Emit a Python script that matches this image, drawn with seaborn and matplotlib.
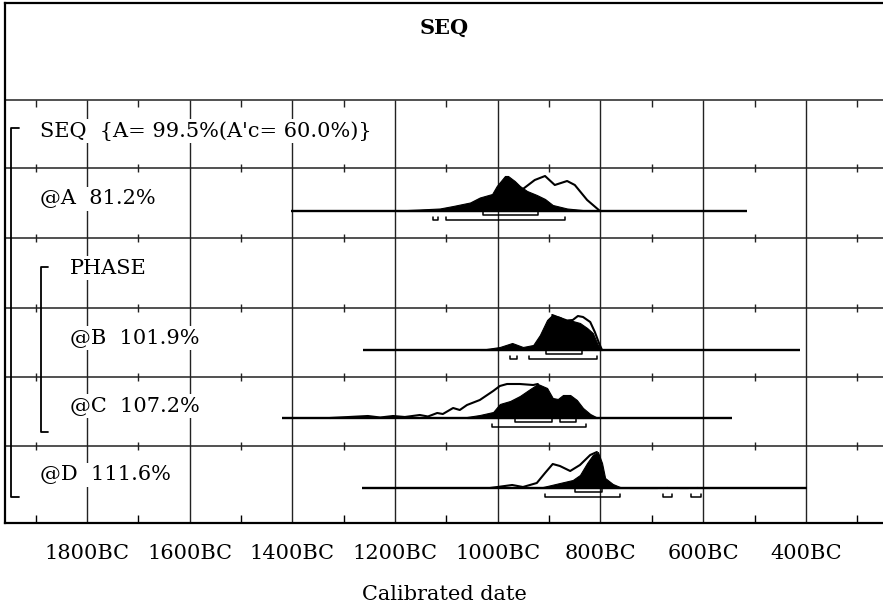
import matplotlib
matplotlib.use("Agg")
import matplotlib.pyplot as plt
import seaborn as sns

# OxCal style multiplot: years are negative for BC
TICK_YEARS = [-1800, -1600, -1400, -1200, -1000, -800, -600, -400]
TICK_LABELS = ["1800BC", "1600BC", "1400BC", "1200BC", "1000BC", "800BC", "600BC", "400BC"]
MINOR_YEARS = [-1900, -1700, -1500, -1300, -1100, -900, -700, -500, -300]

ROW_LABELS = ["SEQ  {A= 99.5%(A'c= 60.0%)}", "@A  81.2%", "PHASE",
              "@B  101.9%", "@C  107.2%", "@D  111.6%"]

# range of the baseline for each distribution
A_SPAN = [-1403, -515]
B_SPAN = [-1262, -412]
C_SPAN = [-1420, -544]
D_SPAN = [-1264, -398]

# posterior (filled) distributions: year, relative height
A_POST_X = [-1197, -1152, -1113, -1087, -1054, -1035, -1011, -1002, -986, -980,
            -967, -957, -943, -924, -908, -893, -865, -826, -801]
A_POST_Y = [0.5, 1.5, 2.5, 5, 8.5, 13.5, 17, 25, 35, 35, 30, 25, 20, 16, 12, 6, 2.5, 0.5, 0]
B_POST_X = [-1035, -996, -972, -951, -931, -918, -904, -894, -879, -865, -854,
            -840, -826, -815, -805, -797]
B_POST_Y = [0, 3, 7, 3, 5, 15, 30, 35, 33, 29, 29, 27, 22, 17, 5, 0]
C_POST_X = [-1060, -1035, -1009, -996, -976, -957, -937, -922, -904, -893, -883,
            -873, -859, -846, -834, -820, -805]
C_POST_Y = [1, 3, 6, 14, 17, 22, 29, 34, 30, 20, 19, 23, 23, 18, 10, 4, 0]
D_POST_X = [-937, -912, -879, -854, -840, -826, -815, -805, -797, -791, -776,
            -762, -743, -690, -671, -646, -630, -612, -588]
D_POST_Y = [0, 1, 5, 8, 13, 25, 33, 36, 25, 10, 4, 1, 0, 0, 1, 0, 0, 1, 0]

# unmodelled (outline) distributions, only where they leave the posterior
A_PRIOR_X = [-951, -928, -908, -889, -865, -850, -826, -801]
A_PRIOR_Y = [22, 31, 35, 26, 30, 26, 11, 0]
B_PRIOR_X = [-894, -879, -865, -854, -844, -834, -820, -811, -803, -797]
B_PRIOR_Y = [35, 32, 29.5, 30, 34, 33, 28, 18, 7, 0]
C_PRIOR_X = [-1327, -1253, -1229, -1204, -1181, -1152, -1136, -1118, -1107, -1087,
             -1074, -1060, -1035, -1009, -996, -982, -957, -931, -922]
C_PRIOR_Y = [0, 2, 0.5, 2, 1, 3, 1.5, 5, 4, 10, 8, 13, 18, 27, 32, 34, 34, 33, 34]
D_PRIOR_X = [-1015, -972, -951, -924, -908, -893, -879, -859, -840, -820, -807]
D_PRIOR_Y = [0, 3, 1, 5, 15, 24, 22, 17, 23, 33, 36]

# 68.2% and 95.4% ranges
A_R68 = [(-1029, -922)]
A_R95 = [(-1126, -1116), (-1101, -869)]
B_R68 = [(-906, -836)]
B_R95 = [(-976, -963), (-939, -807)]
C_R68 = [(-967, -894), (-879, -848)]
C_R95 = [(-1011, -828)]
D_R68 = [(-850, -797)]
D_R95 = [(-908, -762), (-678, -661), (-624, -604)]

# layout (y in pixel-like units, top down)
SEPARATORS = [100, 168, 238, 308, 377, 446]
BOTTOM = 523
LABEL_POS = [(40, 131), (40, 199), (70, 268), (70, 338), (70, 406), (40, 475)]
BASELINES = {"A": 211, "B": 350, "C": 418, "D": 488}
X_LEFT, X_RIGHT = -1959.7, -249.8
PX_PER_YEAR = 0.5135


def yr(px):
    # pixel column -> year, for the brackets and labels in the left margin
    return X_LEFT + (px - 5) / PX_PER_YEAR


def draw_dist(ax, base, span, px, py, ox, oy, r68, r95):
    ax.fill_between(px, [base] * len(px), [base - v for v in py],
                    color="black", linewidth=0.8, edgecolor="black")
    ax.hlines(base, span[0], span[1], color="black", linewidth=1.7)
    sns.lineplot(x=ox, y=[base - v for v in oy], sort=False, estimator=None,
                 color="black", linewidth=1.5, ax=ax)
    for lo, hi in r68:
        ax.plot([lo, lo, hi, hi], [base + 1, base + 4, base + 4, base + 1],
                color="black", linewidth=1.1)
    for lo, hi in r95:
        ax.plot([lo, lo, hi, hi], [base + 6, base + 9, base + 9, base + 6],
                color="black", linewidth=1.1)


def main():
    sns.set_style("white")
    plt.rcParams["font.family"] = ["DejaVu Serif"]
    plt.rcParams["text.color"] = "black"
    plt.rcParams["xtick.color"] = "black"
    plt.rcParams["axes.labelcolor"] = "black"

    fig = plt.figure(figsize=(8.83, 6.10), dpi=100)
    ax = fig.add_axes([5 / 883, 87 / 610, 878 / 883, 520 / 610])
    ax.set_xlim(X_LEFT, X_RIGHT)
    ax.set_ylim(BOTTOM, 3)

    # grid
    ax.vlines(TICK_YEARS, SEPARATORS[0], BOTTOM, color="#222222", linewidth=1.0, zorder=0)
    ax.hlines(SEPARATORS, X_LEFT, X_RIGHT, color="#222222", linewidth=1.1, zorder=0)
    ax.vlines(MINOR_YEARS, SEPARATORS[0], SEPARATORS[0] + 7, color="#222222", linewidth=1.0)
    for s in SEPARATORS[1:]:
        ax.vlines(MINOR_YEARS, s - 4, s + 4, color="#222222", linewidth=1.0)

    draw_dist(ax, BASELINES["A"], A_SPAN, A_POST_X, A_POST_Y, A_PRIOR_X, A_PRIOR_Y, A_R68, A_R95)
    draw_dist(ax, BASELINES["B"], B_SPAN, B_POST_X, B_POST_Y, B_PRIOR_X, B_PRIOR_Y, B_R68, B_R95)
    draw_dist(ax, BASELINES["C"], C_SPAN, C_POST_X, C_POST_Y, C_PRIOR_X, C_PRIOR_Y, C_R68, C_R95)
    draw_dist(ax, BASELINES["D"], D_SPAN, D_POST_X, D_POST_Y, D_PRIOR_X, D_PRIOR_Y, D_R68, D_R95)

    # row labels (white box breaks the grid like the original)
    for (px, py), txt in zip(LABEL_POS, ROW_LABELS):
        ax.text(yr(px), py, txt, fontsize=15, va="center", ha="left", color="black",
                bbox=dict(facecolor="white", edgecolor="none", pad=1.5))

    # sequence / phase brackets
    ax.plot([yr(19), yr(11), yr(11), yr(19)], [128, 128, 497, 497], color="black", linewidth=1.3)
    ax.plot([yr(48), yr(41), yr(41), yr(48)], [267, 267, 432, 432], color="black", linewidth=1.3)

    ax.text(0.5, 1 - 25 / 520, "SEQ", transform=ax.transAxes, ha="center", va="center",
            fontsize=15, fontweight="bold", color="black")

    ax.set_xticks(TICK_YEARS, TICK_LABELS)
    ax.set_xticks(MINOR_YEARS, minor=True)
    ax.tick_params(axis="x", which="major", length=0, pad=15, labelsize=15, labelcolor="black")
    ax.tick_params(axis="x", which="minor", direction="in", length=6, width=1.0,
                   bottom=True, top=False, color="black")
    ax.set_yticks([])
    ax.set_xlabel("Calibrated date", fontsize=15, labelpad=16, color="black")
    ax.set_ylabel("")

    for side in ["top", "left", "bottom"]:
        ax.spines[side].set_visible(True)
        ax.spines[side].set_color("black")
        ax.spines[side].set_linewidth(1.6)
    ax.spines["right"].set_visible(False)

    fig.savefig("out.png", dpi=100)
    plt.close(fig)


if __name__ == "__main__":
    main()
